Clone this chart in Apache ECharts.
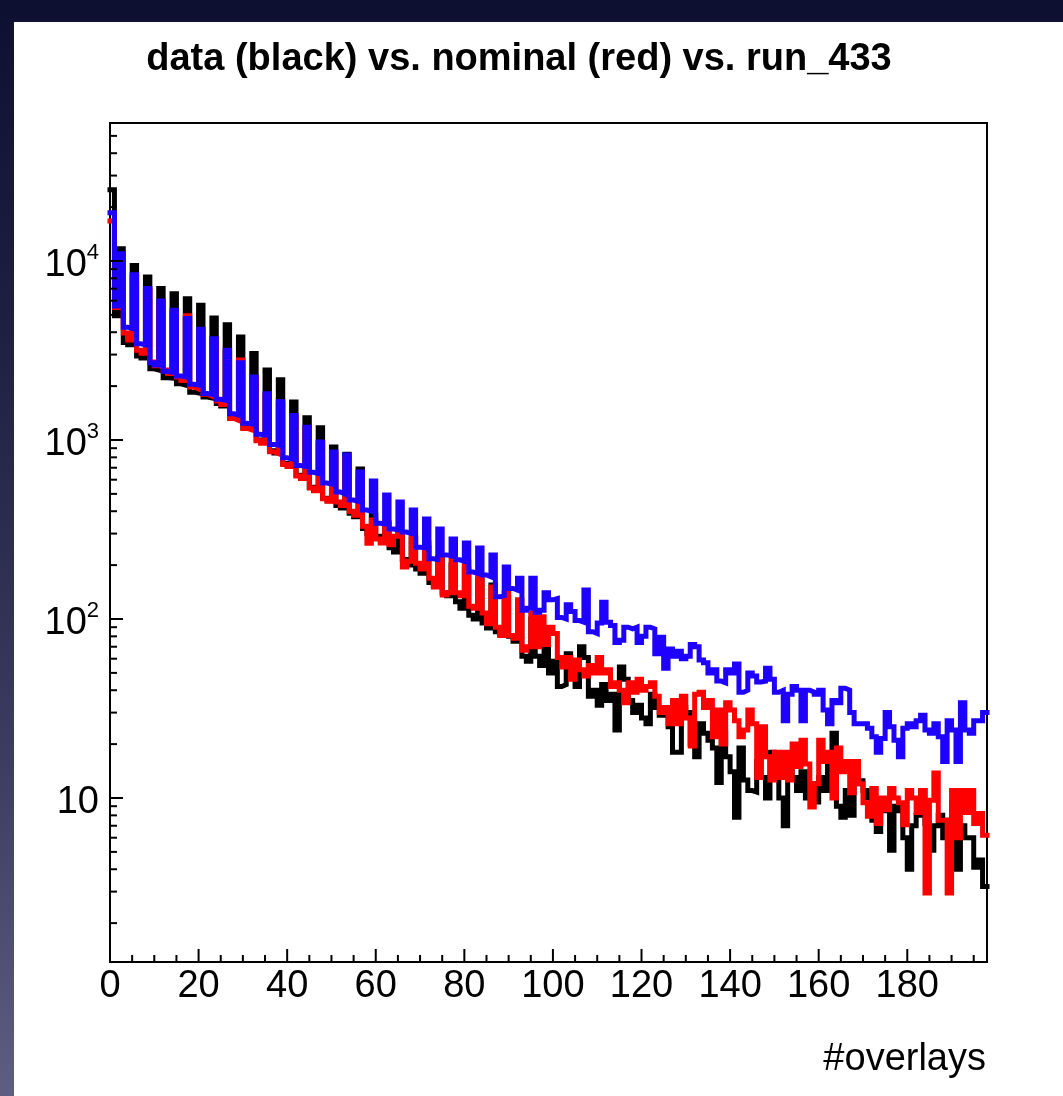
<!DOCTYPE html>
<html><head><meta charset="utf-8">
<script src="https://cdn.jsdelivr.net/npm/echarts@6/dist/echarts.min.js"></script>
<style>
html,body{margin:0;padding:0;width:1063px;height:1096px;overflow:hidden;
 background:linear-gradient(to bottom,#0d1030 0%,#1d2040 30%,#3c3d60 70%,#5f5e82 100%);}
#paper{position:absolute;left:14px;top:22px;right:0;bottom:0;background:#fff;}
#chart{position:absolute;left:0;top:0;width:1063px;height:1096px;}
</style></head><body>
<div id="paper"></div><div id="chart"></div>
<script>
// ---- data: histogram contents for bins [i, i+1), i = 0..197 ----
const xMin = 0, xMax = 198;
const yMin = 1.213, yMax = 59000;
const xMajorTicks = [0,20,40,60,80,100,120,140,160,180];
const yMajorTicks = [10,100,1000,10000];

const dataBlack = [
25000,4950,11700,3500,3400,9450,2950,2870,8150,2500,
2460,7010,2230,2220,6570,2060,2030,6160,1850,1830,
5660,1740,1720,4810,1600,1550,4410,1330,1300,3760,
1170,1150,3040,1000,970,2460,870,845,2170,740,
715,1630,635,612,1330,545,522,1170,472,458,
914,430,417,832,390,372,688,320,300,380,
290,280,340,250,237,300,215,200,280,190,
180,250,160,155,215,140,135,200,125,115,
190,105,100,165,95,89,155,85,82,132,
80,75,115,62,58,100,62,55,85,50,
58,42,43,64,52,42,70,61,37,40,
33,43,35,38,24,54,46,35,30,33,
28,26,38,32,29,31,25,18,18,32,
30,20,17,26,23,21,19,12.2,23,17,
14,7.8,19,12.6,11,10.8,16,13,10,18,
14,10,7,16,13,11,14,10,12,9.5,
13,11,15,23,9,7.8,11,8,12,12.5,
11,10,7.5,6.5,8.5,9,5.1,9,8.5,6,
4,7,8,11,7.2,5.1,7,8,6,7.5,
9.4,4,7,6,6,4.1,4.5,3.2
];

const dataRed = [
16700,5500,10500,3960,3620,8100,3170,3050,6800,2730,
2600,5800,2460,2350,5150,2250,2150,4950,1980,1930,
4050,1800,1760,3550,1650,1580,3080,1320,1290,2800,
1160,1140,2180,990,960,1760,860,840,1590,730,
710,1330,630,610,1150,540,520,950,470,455,
830,450,430,780,400,380,600,330,265,357,
280,266,345,260,290,300,195,210,286,205,
190,266,169,151,222,136,140,214,140,135,
208,118,115,172,108,94,151,90,81,140,
81,78,128,67,70,108,70,103,72,90,
83,61,54,61,46,59,52,48,55,50,
61,50,52,42,44,40,34,44,39,46,
40,42,44,37,30,32,26,35,26,37,
28,19.5,38,39,32,35,22,31,20,34,
31,27,22,24,31,26,13,25,17,12.6,
18,13,18,12.6,20,15,21,15.5,8.9,12,
21,16,18,10,19,14,16,10.7,16,12,
9.4,7.9,11.3,7.2,10,8.6,11.3,10,9.4,7.1,
11,10,8.3,11,2.95,9.7,13.8,7.5,7.5,2.95,
11,6,11,8.3,11,7.2,8.2,6.2
];

const dataBlue = [
18600,5600,10960,4270,4200,8380,3450,3400,7010,2700,
2620,5980,2420,2390,5310,2280,2250,4770,2050,2030,
4160,1820,1800,3680,1690,1670,3170,1400,1380,2700,
1240,1230,2250,1075,1065,1810,945,935,1640,795,
785,1370,720,713,1180,660,650,975,575,567,
857,512,500,825,462,455,663,406,400,590,
343,340,493,318,315,450,306,300,406,252,
250,362,217,215,318,228,225,280,214,210,
266,183,180,249,176,172,228,133,135,195,
148,145,169,112,115,169,109,112,140,128,
130,102,100,120,110,98,96,145,85,83,
95,124,96,92,74,76,90,88,90,74,
80,90,88,64,79,53,68,62,66,60,
62,72,70,59,57,50,52,45,44,52,
50,56,39,40,50,48,44.5,45,53,46,
39,40,27,38,42,40,27,40,39,38,
40,31,26,35,34,41,40,30,26,26,
26,24.5,22,18,21.5,30,25,21,17,24.5,
26,25,27,29,24,23,26,22,16,27,
24,16,34,24,23,27,27,30
];

// ---- build step-histogram point lists (left bin edges + closing right edge) ----
function histPoints(vals){
  const pts = vals.map((v,i)=>[xMin+i, v]);
  pts.push([xMin+vals.length, vals[vals.length-1]]);
  return pts;
}
function histSeries(name, vals, color){
  return {name, type:'line', step:'end', data:histPoints(vals), symbol:'none',
    showSymbol:false, animation:false, clip:true, silent:true,
    lineStyle:{color, width:5, cap:'square', join:'miter'}};
}

// ---- tick values ----
const xMinorTicks = [];
for (let v=5; v<xMax; v+=5) if (v%20!==0) xMinorTicks.push(v);
const yMinorTicks = [];
for (let e=0;e<=4;e++) for (let m=2;m<=9;m++){ const v=m*Math.pow(10,e); if(v>yMin && v<yMax) yMinorTicks.push(v); }

function tickSeries(values, axis, len){
  return {type:'custom', silent:true, animation:false, clip:false, z:5,
    data: values.map(v => axis==='y' ? [xMin, v] : [v, yMin]),
    renderItem(params, api){
      const p = api.coord([api.value(0), api.value(1)]);
      const shape = axis==='y'
        ? {x1:p[0], y1:p[1], x2:p[0]+len, y2:p[1]}
        : {x1:p[0], y1:p[1], x2:p[0], y2:p[1]-len};
      return {type:'line', shape, style:{stroke:'#000', lineWidth:2}};
    }};
}

const FONT = '"Liberation Sans", Arial, Helvetica, sans-serif';
const chart = echarts.init(document.getElementById('chart'), null, {renderer:'canvas'});
chart.setOption({
  animation:false,
  backgroundColor:'transparent',
  grid:{left:110, right:76, top:123, bottom:134, show:true, borderColor:'#000', borderWidth:2, backgroundColor:'transparent'},
  xAxis:{type:'value', min:xMin, max:xMax, interval:20,
    axisLine:{show:true, lineStyle:{color:'#000', width:2}},
    axisTick:{show:false}, splitLine:{show:false},
    axisLabel:{margin:6, color:'#000', fontFamily:FONT, fontSize:38, lineHeight:38,
      showMaxLabel:false,
      formatter:v => xMajorTicks.indexOf(v)>=0 ? String(v) : ''}},
  yAxis:{type:'log', logBase:10, min:yMin, max:yMax,
    axisLine:{show:true, lineStyle:{color:'#000', width:2}},
    axisTick:{show:false}, splitLine:{show:false}, minorTick:{show:false},
    axisLabel:{margin:11, color:'#000', fontFamily:FONT, showMinLabel:false, showMaxLabel:false,
      formatter:v => {
        const l = Math.log10(v), e = Math.round(l);
        if (Math.abs(l-e) > 1e-6 || yMajorTicks.indexOf(Math.pow(10,e))<0) return '';
        return e===1 ? '{b|10}' : '{b|10}{s|'+e+'}';
      },
      rich:{ b:{fontFamily:FONT, fontSize:38, lineHeight:38, color:'#000', padding:[10,0,0,0]},
             s:{fontFamily:FONT, fontSize:22, lineHeight:22, color:'#000', verticalAlign:'top'} }}},
  graphic:[
    {type:'text', x:519, y:60, silent:true,
     style:{text:'data (black) vs. nominal (red) vs. run_433', fill:'#000',
       font:'bold 38px '+FONT, textAlign:'center', textVerticalAlign:'middle', align:'center', verticalAlign:'middle'}},
    {type:'text', x:986, y:1060, silent:true,
     style:{text:'#overlays', fill:'#000', font:'38px '+FONT,
       textAlign:'right', textVerticalAlign:'middle', align:'right', verticalAlign:'middle'}}
  ],
  series:[
    histSeries('data', dataBlack, '#000000'),
    histSeries('nominal', dataRed, '#ff0000'),
    histSeries('run_433', dataBlue, '#1e00ff'),
    tickSeries(xMajorTicks, 'x', 13),
    tickSeries(xMinorTicks, 'x', 7),
    tickSeries(yMajorTicks, 'y', 13),
    tickSeries(yMinorTicks, 'y', 7)
  ]
});
</script></body></html>
